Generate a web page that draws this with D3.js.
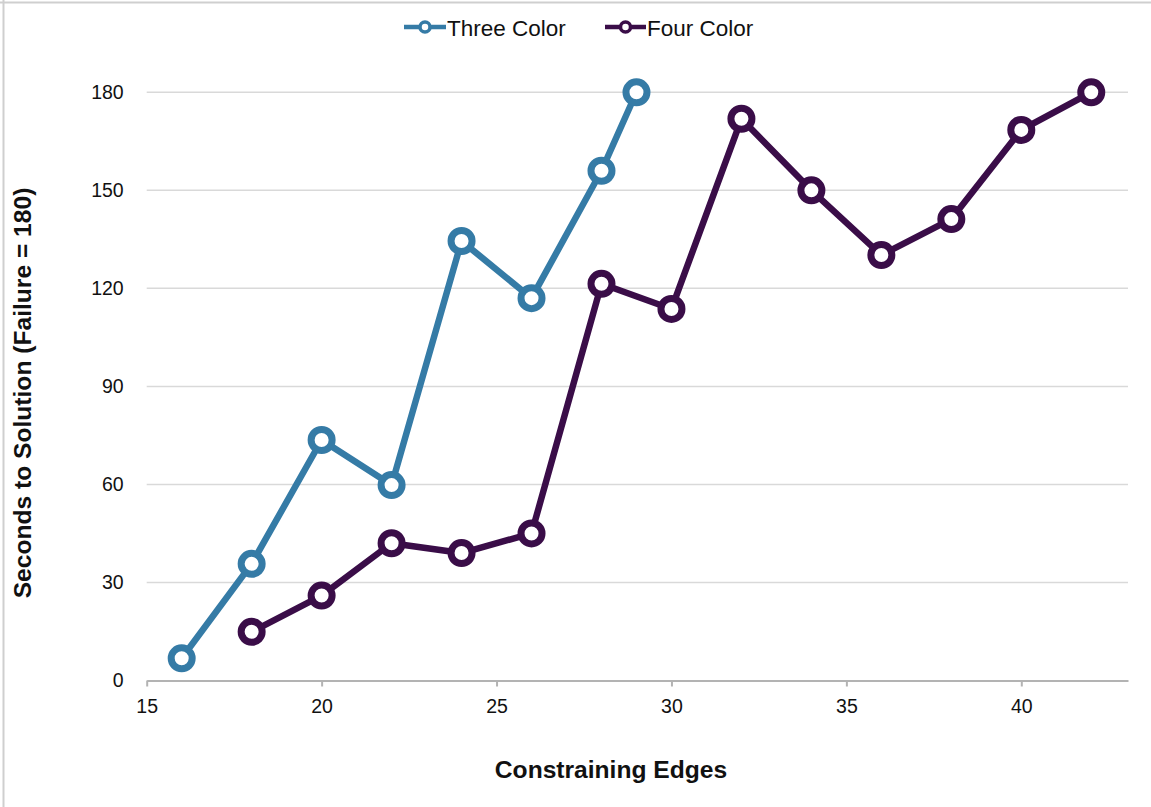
<!DOCTYPE html>
<html>
<head>
<meta charset="utf-8">
<script src="https://cdn.jsdelivr.net/npm/d3@7"></script>
<style>
  html, body { margin: 0; padding: 0; background: #fff; }
  svg { display: block; }
  text { font-family: "Liberation Sans", Arial, Helvetica, sans-serif; }
</style>
</head>
<body>
<svg id="chart" width="1151" height="807"></svg>
<script>
// Constraining edges vs. time to solution for graph coloring runs
const threeEdges = [16, 18, 20, 22, 24, 26, 28, 29];
const threeSecs  = [6.8, 35.7, 73.6, 59.8, 134.5, 117, 156, 180];

const fourEdges = [18, 20, 22, 24, 26, 28, 30, 32, 34, 36, 38, 40, 42];
const fourSecs  = [14.9, 26, 42, 39, 45, 121.4, 113.7, 171.9, 150, 130.2, 141.2, 168.5, 180];

const xTicks = [15, 20, 25, 30, 35, 40];
const yTicks = [0, 30, 60, 90, 120, 150, 180];

const seriesNames  = ["Three Color", "Four Color"];
const seriesColors = ["#357ba6", "#3a0d48"];

const svg = d3.select("#chart");
const W = 1151, H = 807;
const plotLeft = 146.7, plotRight = 1128, plotTop = 92.3, plotBottom = 680.5;

// frame edges
svg.append("line").attr("x1", 0).attr("x2", W).attr("y1", 2.5).attr("y2", 2.5)
  .attr("stroke", "#cfcfcf").attr("stroke-width", 2);
svg.append("line").attr("x1", 3.5).attr("x2", 3.5).attr("y1", 0).attr("y2", H)
  .attr("stroke", "#cfcfcf").attr("stroke-width", 2);

const x = d3.scaleLinear().domain([15, 43.05]).range([plotLeft, plotRight]);
const y = d3.scaleLinear().domain([0, 180]).range([plotBottom, plotTop]);

// horizontal gridlines
svg.append("g").selectAll("line").data(yTicks.filter(d => d > 0)).join("line")
  .attr("x1", plotLeft).attr("x2", plotRight)
  .attr("y1", d => y(d)).attr("y2", d => y(d))
  .attr("stroke", "#d9d9d9").attr("stroke-width", 1.5);

// x axis
const xAxis = svg.append("g").attr("transform", `translate(0,${plotBottom})`)
  .call(d3.axisBottom(x).tickValues(xTicks).tickSize(6).tickSizeOuter(0).tickPadding(13));
xAxis.attr("font-size", null).attr("font-family", null);
xAxis.select(".domain").attr("stroke", "#b3b3b3").attr("stroke-width", 2);
xAxis.selectAll(".tick line").attr("stroke", "#b3b3b3").attr("stroke-width", 2);
xAxis.selectAll(".tick text").style("font-size", "19.5px").attr("fill", "#111");

// y axis labels
const yAxis = svg.append("g").attr("transform", `translate(${plotLeft},0)`)
  .call(d3.axisLeft(y).tickValues(yTicks).tickSize(0).tickPadding(23));
yAxis.attr("font-size", null).attr("font-family", null);
yAxis.select(".domain").remove();
yAxis.selectAll(".tick text").style("font-size", "19.5px").attr("fill", "#111");

// axis titles
svg.append("text").attr("x", 611).attr("y", 778).attr("text-anchor", "middle")
  .style("font-size", "24.6px").attr("font-weight", "bold").attr("fill", "#111")
  .text("Constraining Edges");
svg.append("text").attr("transform", "translate(31,393) rotate(-90)")
  .attr("text-anchor", "middle")
  .style("font-size", "24.6px").attr("font-weight", "bold").attr("fill", "#111")
  .text("Seconds to Solution (Failure = 180)");

// series
const series = [
  { name: seriesNames[0], color: seriesColors[0], pts: threeEdges.map((e, i) => [e, threeSecs[i]]) },
  { name: seriesNames[1], color: seriesColors[1], pts: fourEdges.map((e, i) => [e, fourSecs[i]]) }
];
const line = d3.line().x(d => x(d[0])).y(d => y(d[1]));

series.forEach(s => {
  const g = svg.append("g");
  g.append("path").attr("d", line(s.pts)).attr("fill", "none")
    .attr("stroke", s.color).attr("stroke-width", 6.5).attr("stroke-linejoin", "round");
  g.selectAll("circle").data(s.pts).join("circle")
    .attr("cx", d => x(d[0])).attr("cy", d => y(d[1])).attr("r", 10.5)
    .attr("fill", "#fff").attr("stroke", s.color).attr("stroke-width", 7);
});

// legend
const legendPos = [{ x0: 404, x1: 446, tx: 447 }, { x0: 605, x1: 646, tx: 647 }];
series.forEach((s, i) => {
  const p = legendPos[i];
  const g = svg.append("g");
  g.append("line").attr("x1", p.x0).attr("x2", p.x1).attr("y1", 27).attr("y2", 27)
    .attr("stroke", s.color).attr("stroke-width", 4.5);
  g.append("circle").attr("cx", (p.x0 + p.x1) / 2).attr("cy", 27).attr("r", 5)
    .attr("fill", "#fff").attr("stroke", s.color).attr("stroke-width", 3.5);
  g.append("text").attr("x", p.tx).attr("y", 35.5).style("font-size", "22.5px").attr("fill", "#111")
    .text(s.name);
});
</script>
</body>
</html>
